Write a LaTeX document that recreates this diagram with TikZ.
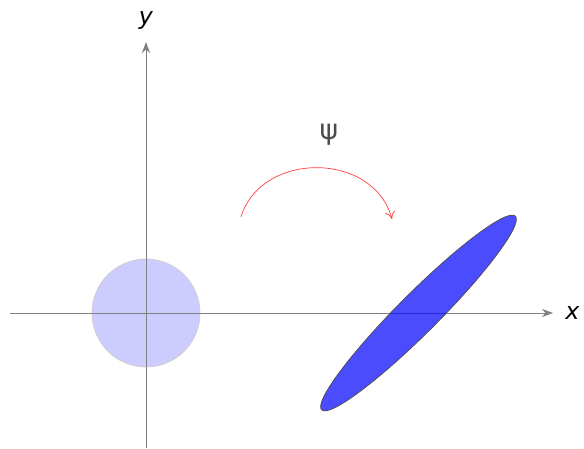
\documentclass[tikz,border=0pt]{standalone}
\usepackage{fontspec}
\setmainfont{DejaVu Sans}
\usetikzlibrary{arrows.meta}

\begin{document}
\begin{tikzpicture}[every node/.style={font=\fontsize{13.5}{15}\selectfont}, x=1cm, y=1cm]
	\useasboundingbox (-2.92,-2.72) rectangle (8.76,6.26);
	% disc before the map
	\fill[blue, fill opacity=0.2] (0,0) circle (1.08);
	\draw[black!20, thin] (0,0) circle (1.08);
	% axes
	\coordinate (xs) at (-2.72,0);
	\coordinate (xe) at (8.14,0);
	\coordinate (ys) at (0,-2.7);
	\coordinate (ye) at (0,5.42);
	\draw[black!50, -{Stealth[length=2.2mm, width=1.6mm]}] (xs) -- (xe);
	\draw[black!50, -{Stealth[length=2.2mm, width=1.6mm]}] (ys) -- (ye);
	\node[anchor=west, inner sep=0pt] (xlab) at (8.38,0) {\itshape x};
	\node[anchor=south, inner sep=0pt] (ylab) at (0.0,5.66) {\itshape y};
	% image under psi
	\draw[fill=blue, fill opacity=0.7, draw=black!70, thin, rotate around={45:(5.45,0)}] (5.45,0) ellipse (2.74 and 0.4);
	% the map
	\coordinate (as) at (1.9,1.92);
	\coordinate (ae) at (4.92,1.88);
	\draw[red!75, -{To[length=1.5mm, width=2mm]}] (as) .. controls (2.3,3.24) and (4.55,3.24) .. (ae);
	\node[black!70, font=\fontsize{16}{18}\selectfont] (psi) at (3.66,3.56) {ψ};
\end{tikzpicture}
\end{document}
